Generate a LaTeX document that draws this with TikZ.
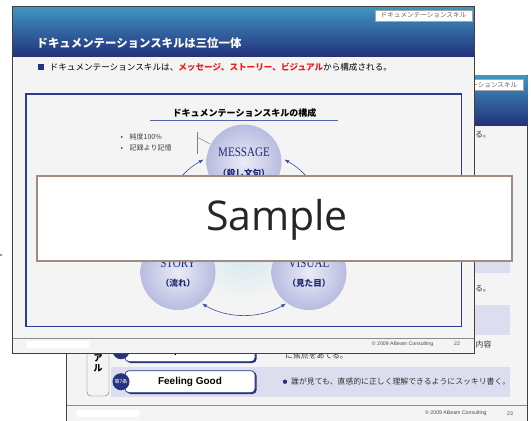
\documentclass[tikz,border=0pt]{standalone}
\usepackage{fontspec}
\usepackage{graphicx}
\setmainfont{Liberation Sans}
\newfontfamily\jp{Noto Sans CJK JP}
\newfontfamily\romfont{Liberation Serif}
\newfontfamily\samplefont{Open Sans}
\usetikzlibrary{calc,positioning,arrows.meta,shadings}
\definecolor{slidebg}{RGB}{244,244,244}
\definecolor{bandcol}{RGB}{220,222,240}
\definecolor{navy}{RGB}{38,52,128}
\definecolor{boxnavy}{RGB}{45,60,145}
\definecolor{hdtop}{RGB}{62,150,192}
\definecolor{hdmid}{RGB}{42,95,160}
\definecolor{hdbot}{RGB}{36,50,125}
\definecolor{ballin}{RGB}{234,236,247}
\definecolor{ballout}{RGB}{184,188,224}
\definecolor{arrowcol}{RGB}{60,80,160}
\definecolor{jpred}{RGB}{230,30,30}
\definecolor{glow}{RGB}{205,230,238}
\definecolor{samplebrd}{RGB}{160,140,128}
\definecolor{circtxt}{RGB}{30,42,115}
\newcommand{\fsz}[1]{\fontsize{#1}{#1}\selectfont}
\tikzstyle{cycline} = [draw=arrowcol, line width=0.6pt]

\begin{document}
\begin{tikzpicture}[x=1pt,y=-1pt,
slide/.style={draw=black!75,line width=0.9pt,fill=slidebg},
hdr/.style={top color=hdtop,middle color=hdmid,bottom color=hdbot},
tag/.style={draw=black!35,fill=white,line width=0.5pt,minimum width=97pt,minimum height=11pt,inner sep=0pt,font=\jp\fsz{6.6},text=black!60},
band/.style={fill=bandcol},
badge/.style={circle,fill=navy,minimum size=17pt,inner sep=0pt,text=white,font=\jp\fsz{5}},
btn/.style={draw=navy,line width=0.7pt,fill=white,rounded corners=4pt,minimum width=130pt,minimum height=22pt,inner sep=0pt,font=\bfseries\fsz{10}},
ball/.style={circle,minimum size=75pt,inner sep=0pt,shading=radial,inner color=ballin,outer color=ballout},
romtxt/.style={text=circtxt,font=\romfont\fsz{13},inner sep=0pt},
jptxt/.style={text=circtxt,font=\jp\bfseries\fsz{8.6},inner sep=0pt},
body/.style={anchor=west,inner sep=0pt,font=\jp\fsz{7.85},text=black!80},
foot/.style={inner sep=0pt,font=\fsz{5.2},text=black!70}]
\useasboundingbox (0,0) rectangle (531,421);
\fill[white] (0,0) rectangle (531,421);

% back slide
\draw[slide] (66.7,75) rectangle (527.7,430);
\shade[hdr] (67.1,75.4) rectangle (527.3,125);
\node[tag] (tagB) at (474.5,85) {ドキュメンテーションスキル};
\node[body] (leadB) at (474.8,135) {る。};
\foreach \yy in {180.7,242.7,304.7,366.7}
 \fill[band] (110.7,\yy) rectangle (510,\yy+30);
\node[body] (r4) at (474.8,288.5) {る。};
\draw[black!60,fill=slidebg,rounded corners=4pt] (87,290) rectangle (109,396);
\foreach \ch/\yy in {ビ/328,ジ/338,ュ/348,ア/358,ル/368}
 \node[inner sep=0pt,font=\jp\bfseries\fsz{9}] at (98,\yy) {\ch};
\foreach \n/\yy/\lab in {6/350.7/Simple is Best,7/381.7/Feeling Good}
{\fill[navy,rounded corners=4pt] (126.5,\yy-10) rectangle (256.6,\yy+12.3);
 \node[btn] (btn\n) at (190,\yy) {\lab};
 \node[badge] (no\n) at (121,\yy) {第\n 条};}
\node[body] (r6a) at (475.5,345) {内容};
\node[body] (r6b) at (285,355.5) {に焦点をあてる。};
\fill[navy] (285,381.7) circle (2.2);
\node[body] (r7) at (291,381.7) {誰が見ても、直感的に正しく理解できるようにスッキリ書く。};
\draw[black!45,line width=0.5pt] (67,405) -- (527.3,405);
\fill[white] (77,410) rectangle (139,417);
\node[foot,anchor=west] (cpB) at (425,413.5) {\textcopyright\ 2009 ABeam Consulting};
\node[foot] (pgB) at (510,413.5) {23};

% front slide
\draw[slide] (12.7,6.7) rectangle (474.3,353.3);
\shade[hdr] (13.1,7.1) rectangle (473.9,56);
\node[tag] (tagA) at (423.5,15.5) {ドキュメンテーションスキル};
\node[anchor=west,inner sep=0pt,text=white,font=\jp\bfseries\fsz{11.4}] (ttl) at (36.5,43) {ドキュメンテーションスキルは三位一体};
\fill[navy] (38,64) rectangle (44,70);
\node[anchor=west,inner sep=0pt,font=\jp\fsz{8.6}] (lead) at (49.5,67)
 {ドキュメンテーションスキルは、\textcolor{jpred}{\bfseries メッセージ、ストーリー、ビジュアル}から構成される。};
\draw[boxnavy,line width=1.2pt,fill=slidebg] (26,94) rectangle (461.5,326.7);
\node[inner sep=0pt,font=\jp\bfseries\fsz{9}] (ctitle) at (244.5,113) {ドキュメンテーションスキルの構成};
\draw[boxnavy!80,line width=1.2pt] (150,120.7) -- (338,120.7);
\foreach \t/\yy in {純度100\%/136.7,記録より記憶/148.3}
 \node[anchor=west,inner sep=0pt,font=\jp\fsz{7},text=black!75] at (120.5,\yy) {\makebox[9pt][l]{•}\t};
\coordinate (brkT) at (197,132);
\coordinate (brkB) at (197,154);
\coordinate (brkM) at (197,137);
\coordinate (brkE) at (210,144);
\draw[black!50,line width=0.7pt] (brkT) -- (brkB);
\draw[black!50,line width=0.5pt] (brkM) -- (brkE);
\coordinate (cyc) at (244,232);
\shade[inner color=glow,outer color=slidebg] (244,245) circle (55);
\node[ball] (msg) at (244,162) {};
\node[ball] (story) at (178,272.5) {};
\node[ball] (visual) at (309,272.5) {};
\foreach \b/\en/\jn in {msg/MESSAGE/（殺し文句）,story/STORY/（流れ）,visual/VISUAL/（見た目）}
{\node[romtxt] (\b e) at ($(\b)+(0,-9.5)$) {\scalebox{0.85}[1]{\en}};
 \node[jptxt] (\b j) at ($(\b)+(0,11)$) {\jn};}
\draw[cycline,-{Latex[length=5pt,width=3.5pt]}] ($(cyc)+(-185:83)$) arc[start angle=-185,end angle=-119,radius=83];
\draw[cycline,-{Latex[length=5pt,width=3.5pt]}] ($(cyc)+(5:83)$) arc[start angle=5,end angle=-61,radius=83];
\draw[cycline,{Latex[length=5pt,width=3.5pt]}-{Latex[length=5pt,width=3.5pt]}] ($(cyc)+(-239.5:83)$) arc[start angle=-239.5,end angle=-300.5,radius=83];
\draw[black!45,line width=0.5pt] (13,338.5) -- (474,338.5);
\fill[white] (27,341) rectangle (89,348);
\node[foot,anchor=west] (cpA) at (371.7,344) {\textcopyright\ 2009 ABeam Consulting};
\node[foot] (pgA) at (457,344) {22};

% sample overlay
\node[draw=samplebrd,line width=1.6pt,fill=white,minimum width=475pt,minimum height=84.7pt,inner sep=0pt] (smp) at (274.2,218.4) {};
\node[anchor=base,inner sep=0pt,text=black!85,font=\samplefont\fsz{41}] (smptxt) at (277,230) {Sample};
\fill[samplebrd] (1,255) circle (1.4);
\end{tikzpicture}
\end{document}
